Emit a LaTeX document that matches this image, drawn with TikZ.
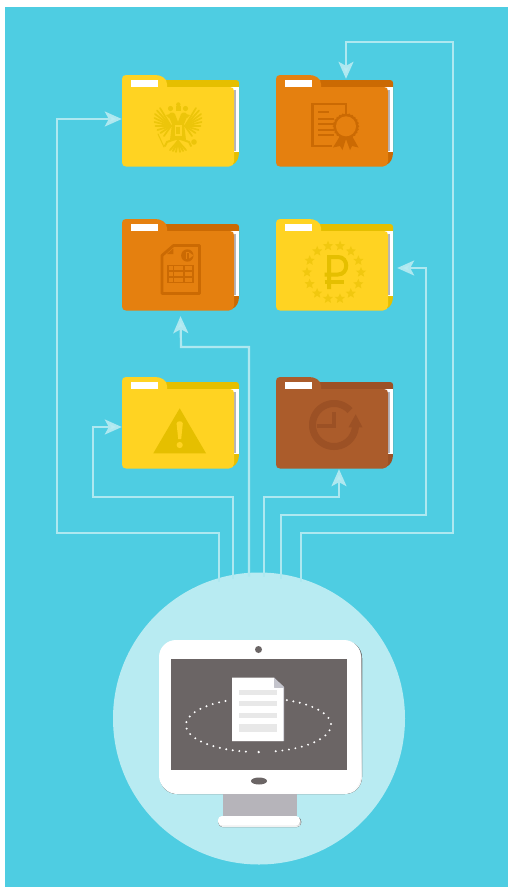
\documentclass[tikz,border=0pt]{standalone}
\usetikzlibrary{arrows.meta}
\definecolor{bgblue}{HTML}{4ECDE2}
\definecolor{pale}{HTML}{B8EBF2}
\definecolor{wire}{HTML}{AEE8F0}
\definecolor{yfront}{HTML}{FFD322}
\definecolor{yback}{HTML}{E5BF00}
\definecolor{ofront}{HTML}{E5800F}
\definecolor{oback}{HTML}{CB6A03}
\definecolor{bfront}{HTML}{AB5C2B}
\definecolor{bback}{HTML}{9C5125}
\definecolor{slot}{HTML}{B4B4BC}
\definecolor{screenc}{HTML}{6B6565}
\definecolor{standc}{HTML}{B6B4BA}
\definecolor{rowc}{HTML}{E8E8E8}
\definecolor{foldc}{HTML}{C4C4CC}
\definecolor{shade}{HTML}{9CCBD2}
\tikzset{
  link/.style={draw=wire,line width=2.2pt,-{Stealth[length=17pt,width=15pt,inset=4pt,fill=pale]}},
  folderbox/.style={rectangle,minimum width=117pt,minimum height=92pt,inner sep=0pt},
  hubdisc/.style={circle,fill=pale,minimum size=292pt,inner sep=0pt},
}
\newcommand{\folderart}[5]{%
  \begin{scope}[shift={(#2,#3)}]
    \fill[#5] (30,12) -- (30,5) -- (114,5) .. controls (116,5) and (117,6) .. (117,8) -- (117,77) .. controls (117,83) and (115,88) .. (110,90) -- (30,90) -- cycle;
    \fill[white] (108,11.5) rectangle (117,77);
    \fill[slot] (112,15) rectangle (113.8,76);
    \fill[#4] (0,4) .. controls (0,1.5) and (1.5,0) .. (4,0) -- (33,0) .. controls (39,0) and (45,3) .. (45,9) -- (45,12) -- (108,12) .. controls (110.5,12) and (112,13.5) .. (112,16) -- (112,86.5) .. controls (112,89.5) and (110,91.5) .. (107,91.5) -- (4,91.5) .. controls (1.5,91.5) and (0,90) .. (0,87.5) -- cycle;
    \fill[white] (9,5) rectangle (36,12);
    \node[folderbox] (#1) at (58.5,46) {};
  \end{scope}}
\newcommand{\starat}[3]{%
  \fill (#1,#2-#3) \foreach \k in {1,...,9} { -- ({#1+(#3)*(1-0.55*mod(\k,2))*cos(-90+36*\k)},{#2+(#3)*(1-0.55*mod(\k,2))*sin(-90+36*\k)}) } -- cycle;}
% rounded panel: colour, left, top, right, bottom (radius 17)
\newcommand{\panel}[5]{%
  \fill[#1] ({#2+17},#3) -- ({#4-17},#3) .. controls ({#4-7.6},#3) and (#4,{#3+7.6}) .. (#4,{#3+17})
    -- (#4,{#5-17}) .. controls (#4,{#5-7.6}) and ({#4-7.6},#5) .. ({#4-17},#5)
    -- ({#2+17},#5) .. controls ({#2+7.6},#5) and (#2,{#5-7.6}) .. (#2,{#5-17})
    -- (#2,{#3+17}) .. controls (#2,{#3+7.6}) and ({#2+7.6},#3) .. ({#2+17},#3) -- cycle;}
\begin{document}
\begin{tikzpicture}[x=1pt,y=-1pt]
\useasboundingbox (0,0) rectangle (508,887);
\fill[white] (0,0) rectangle (508,887);
\fill[bgblue] (5,7) rectangle (508,887);
% folders
\folderart{f1}{122}{75}{yfront}{yback}
\folderart{f2}{276}{75}{ofront}{oback}
\folderart{f3}{122}{219}{ofront}{oback}
\folderart{f4}{276}{219}{yfront}{yback}
\folderart{f5}{122}{377}{yfront}{yback}
\folderart{f6}{276}{377}{bfront}{bback}
% hub
\node[hubdisc] (hub) at (259,718.5) {};
\coordinate (s1) at ([xshift=-40pt,yshift=137pt]hub.center);
\coordinate (s2) at ([xshift=-26pt,yshift=140pt]hub.center);
\coordinate (s3) at ([xshift=-10pt,yshift=142pt]hub.center);
\coordinate (s4) at ([xshift=5pt,yshift=142pt]hub.center);
\coordinate (s5) at ([xshift=22pt,yshift=140pt]hub.center);
\coordinate (s6) at ([xshift=42pt,yshift=137pt]hub.center);
% connectors
\draw[link] (s1) |- (57,533) -- (57,119) -- ([yshift=2pt]f1.west);
\draw[link] (s6) |- (453,533) -- (453,42) -- (346,42) -- ([xshift=11.5pt,yshift=-4pt]f2.north);
\draw[link] (s3) |- (181,347) -- ([yshift=-5pt]f3.south);
\draw[link] (s5) |- (426,515) -- (426,268) -- ([xshift=4pt,yshift=-3pt]f4.east);
\draw[link] (s2) |- (93,497) -- (93,427) -- ([yshift=-4pt]f5.west);
\draw[link] (s4) |- (339,497) -- ([xshift=4.5pt]f6.south);
% eagle
\begin{scope}[color=yback!72!yfront,line cap=round]
  \foreach \e/\f in {160/108,157/110.5,155/114,154.5/118,154.5/122,155.5/126,157.5/130,160.5/133,164/136}{
    \draw[line width=1.7pt] (171,126) -- (\e,\f);
    \draw[line width=1.7pt] (185,126) -- ({356-\e},\f);
  }
  \fill (172,124) -- (169,117) .. controls (168,112) and (173,111) .. (175,114) -- (178,122) -- (181,114) .. controls (183,111) and (188,112) .. (187,117) -- (184,124) -- (186,140) -- (170,140) -- cycle;
  \fill (166,115) -- (170,114) -- (169,118) -- cycle;
  \fill (190,115) -- (186,114) -- (187,118) -- cycle;
  \fill (170.5,108.5) circle[radius=2.6pt];
  \fill (185.5,108.5) circle[radius=2.6pt];
  \fill (178.3,104.5) circle[radius=2.2pt];
  \fill (176,106) rectangle (180.5,111);
  \foreach \e in {170,173,176,180,183,186}{
    \draw[line width=1.8pt] (178,141) -- (\e,{152.5-abs(\e-178)*0.3});
  }
  \draw[line width=2pt] (178,138) -- (167,142) -- (165,146);
  \draw[line width=2pt] (178,138) -- (189,142) -- (191,146);
  \draw[line width=1pt] (158,134) -- (164,147);
  \fill (194,142) circle[radius=2.8pt];
  \fill[yfront] (174.5,125) rectangle (181.5,136);
  \fill (176,127) rectangle (180,134);
\end{scope}
% certificate
\begin{scope}[color=oback]
  \draw[line width=2.6pt] (332,146) -- (312.5,146) -- (312.5,104) -- (346,104) -- (346,114);
  \draw[line width=1.7pt] (318,112.3) -- (329,112.3);
  \foreach \q in {118.7,124,129.7,135}{ \draw[line width=1.7pt] (318,\q) -- (334,\q); }
  \fill (340,136) -- (333,147.5) -- (340,146) -- (342.5,150) -- (346,139) -- (350,150) -- (352,146) -- (358.5,147.5) -- (352,136) -- cycle;
  \fill (359.3,126.3) \foreach \k in {1,...,47} { -- ({346+(13.3-1.2*mod(\k,2))*cos(7.5*\k)},{126.3+(13.3-1.2*mod(\k,2))*sin(7.5*\k)}) } -- cycle;
  \fill[ofront] (346,126.3) circle[radius=10pt];
\end{scope}
% table document
\begin{scope}[color=oback]
  \draw[line width=2.8pt,line join=round] (173.5,245.5) -- (199.5,245.5) -- (199.5,293.5) -- (162,293.5) -- (162,255.5) -- cycle;
  \fill (167,254) -- (173.3,248.5) -- (173.3,254) -- cycle;
  \fill (187.3,255.5) circle[radius=6.2pt];
  \draw[ofront,line width=1pt] (186,258.5) -- (186,252.5) -- (188.5,252.5);
  \fill[ofront] (189.2,252.5) -- (193.5,255.5) -- (189.2,258.5) -- cycle;
  \draw[line width=1.6pt] (168,265.5) rectangle (193,282.5);
  \draw[line width=1.6pt] (173.5,265.5) -- (173.5,282.5) (184,265.5) -- (184,282.5) (168,271) -- (193,271) (168,276.8) -- (193,276.8);
\end{scope}
% ruble
\begin{scope}[color=yback!55!yfront]
  \foreach \t in {0,1,...,13}{
    \pgfmathsetmacro{\sx}{334+27*cos(25.71*\t-77)}
    \pgfmathsetmacro{\sy}{272.3+27*sin(25.71*\t-77)}
    \starat{\sx}{\sy}{5.3}
  }
  \draw[color=yback,line width=4pt] (329,289) -- (329,257) -- (338,257) .. controls (349,257) and (349,274.5) .. (338,274.5) -- (324.5,274.5);
  \draw[color=yback,line width=4pt] (324.5,282) -- (344,282);
\end{scope}
% warning
\fill[yback] (179.7,408.3) -- (206,453.3) -- (153.3,453.3) -- cycle;
\fill[yfront] (176.6,423.5) .. controls (176.6,420.5) and (182.8,420.5) .. (182.8,423.5) -- (181.2,439) -- (178.2,439) -- cycle;
\fill[yfront] (179.7,445) circle[radius=3.1pt];
% clock
\begin{scope}[color=bback]
  \draw[line width=7pt] plot[domain=-42:-358,samples=90,smooth] ({334+21.5*cos(\x)},{425+21.5*sin(\x)});
  \fill (355.7,414.3) -- (362.5,427.3) -- (348.5,427.3) -- cycle;
  \draw[line width=3.5pt] (334,412) -- (334,426) -- (317,426);
\end{scope}
% monitor
\fill[standc] (223,790) rectangle (297,816);
\panel{shade}{160}{641}{362}{794}
\panel{white}{159}{640}{361}{792.5}
\fill[screenc] (171,659) rectangle (347,770);
\fill[screenc] (258.5,649.5) circle[radius=3.5pt];
\fill[screenc] (259,781) ellipse[x radius=8pt,y radius=3.5pt];
\fill[standc] (223,794) rectangle (297,816);
\fill[shade,rounded corners=4pt] (218.5,817) rectangle (301,827);
\fill[white,rounded corners=4pt] (218,816) rectangle (300,825.5);
% orbit and page
\draw[white,line width=2.2pt,line cap=round,dash pattern=on 0pt off 6.6pt] plot[domain=100:245,samples=100,smooth] ({258.5+72.5*cos(\x)},{725+27*sin(\x)});
\draw[white,line width=2.2pt,line cap=round,dash pattern=on 0pt off 6.6pt] plot[domain=293:440,samples=100,smooth] ({258.5+72.5*cos(\x)},{725+27*sin(\x)});
\fill[white] (258.7,752) circle[radius=1.3pt];
\fill[foldc] (232.5,678.5) -- (274,678) -- (284,687) -- (284,741) -- (232,741) -- cycle;
\fill[white] (232,677.5) -- (274,677.5) -- (274,688) -- (283.3,688) -- (283.3,741) -- (232,741) -- cycle;
\fill[foldc] (274,677.5) -- (284,687) -- (274,687) -- cycle;
\fill[rowc] (239,690) rectangle (277,695);
\fill[rowc] (239,701) rectangle (277,706);
\fill[rowc] (239,713) rectangle (277,718);
\fill[rowc] (239,724) rectangle (277,732);
\end{tikzpicture}
\end{document}
